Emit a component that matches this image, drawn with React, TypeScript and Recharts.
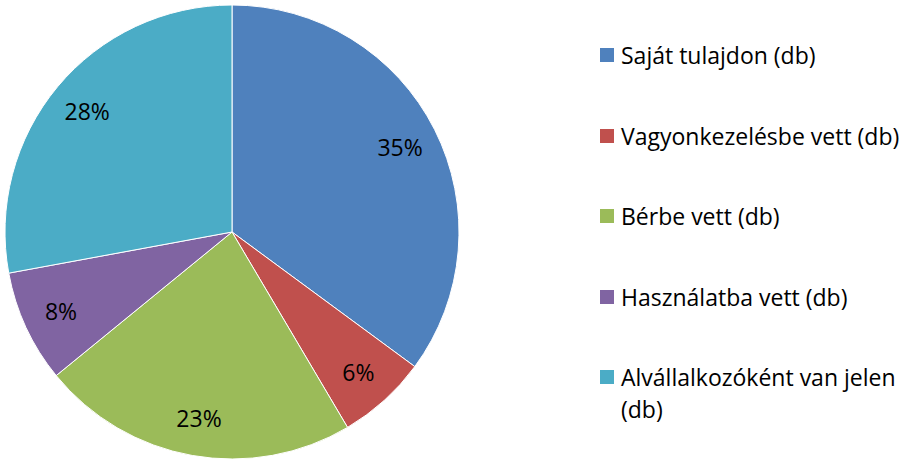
import React from "react";
import { PieChart, Pie, Cell, Legend } from "recharts";

const categories = [
  "Saját tulajdon (db)",
  "Vagyonkezelésbe vett (db)",
  "Bérbe vett (db)",
  "Használatba vett (db)",
  "Alvállalkozóként van jelen (db)",
];
const values = [35.1, 6.4, 22.6, 8.0, 27.9];
const colors = ["#4F81BD", "#C0504D", "#9BBB59", "#8064A2", "#4BACC6"];

const data = categories.map((name, i) => ({ name, value: values[i] }));

const FONT = "'Open Sans', Lato, sans-serif";
const RAD = Math.PI / 180;

const renderLabel = (props: any) => {
  const { cx, cy, midAngle, outerRadius, percent } = props;
  const r = outerRadius * 0.83;
  const x = cx + r * Math.cos(-midAngle * RAD);
  const y = cy + r * Math.sin(-midAngle * RAD);
  return (
    <text
      x={x}
      y={y}
      fill="#000"
      textAnchor="middle"
      dominantBaseline="central"
      fontFamily={FONT}
      fontSize={23}
    >
      {`${Math.round(percent * 100)}%`}
    </text>
  );
};

const LegendContent = () => (
  <div style={{ fontFamily: FONT, fontSize: 23, color: "#000", width: 305 }}>
    {categories.map((c, i) => (
      <div
        key={c}
        style={{
          display: "flex",
          alignItems: "flex-start",
          height: 80.5,
          lineHeight: "32px",
        }}
      >
        <div
          style={{
            width: 14,
            height: 14,
            background: colors[i],
            marginTop: 9,
            marginRight: 7,
            flexShrink: 0,
          }}
        />
        <div style={{ width: 285, whiteSpace: "normal" }}>{c}</div>
      </div>
    ))}
  </div>
);

export default function App() {
  return (
    <div style={{ position: "absolute", left: 0, top: 0, background: "#fff" }}>
      <PieChart width={908} height={459} margin={{ top: 0, right: 0, bottom: 0, left: 0 }}>
        <Pie
          data={data}
          dataKey="value"
          nameKey="name"
          cx={232}
          cy={232}
          outerRadius={227}
          startAngle={90}
          endAngle={-270}
          stroke="#fff"
          strokeWidth={1}
          label={renderLabel}
          labelLine={false}
          isAnimationActive={false}
        >
          {data.map((d, i) => (
            <Cell key={d.name} fill={colors[i]} />
          ))}
        </Pie>
        <Legend
          layout="vertical"
          content={<LegendContent />}
          wrapperStyle={{ left: 600, top: 39, width: 308 }}
        />
      </PieChart>
    </div>
  );
}
